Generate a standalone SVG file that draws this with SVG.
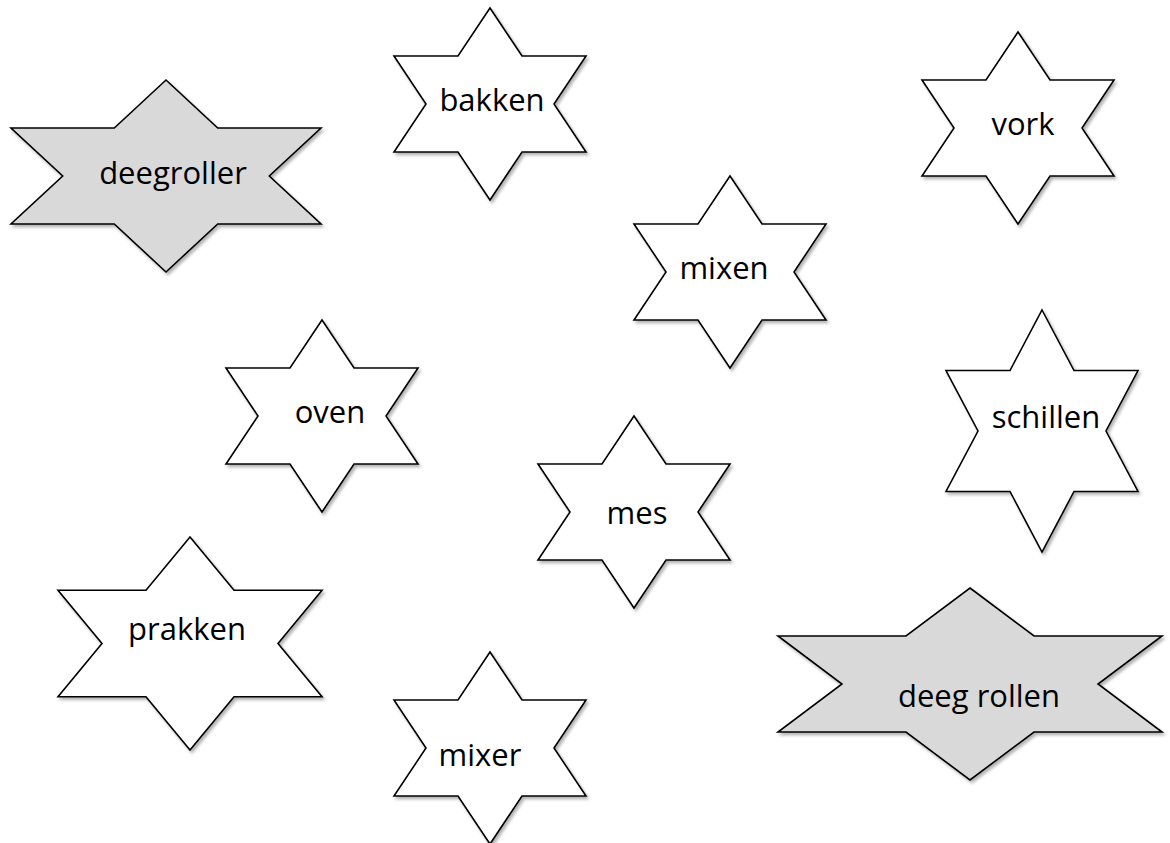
<svg xmlns="http://www.w3.org/2000/svg" width="1170" height="843" viewBox="0 0 1170 843">
  <defs>
    <filter id="sh" x="-10%" y="-10%" width="130%" height="130%">
      <feDropShadow dx="2" dy="2.5" stdDeviation="1.5" flood-color="#000" flood-opacity="0.3"/>
    </filter>
    <style>
      .star { fill: #ffffff; stroke: #000000; stroke-width: 1.6; stroke-linejoin: miter; filter: url(#sh); }
      .grey { fill: #d9d9d9; }
      .lbl { font-family: "Open Sans", "Liberation Sans", sans-serif; font-size: 31px; fill: #000000; text-anchor: middle; }
    </style>
  </defs>
  <rect width="1170" height="843" fill="#ffffff"/>
  <g id="connectors"/>
  <g id="node-bakken">
    <polygon class="star" points="490,8 522,56 586,56 554,104 586,152 522,152 490,200 458,152 394,152 426,104 394,56 458,56"/>
    <text class="lbl" x="492" y="111">bakken</text>
  </g>
  <g id="node-deegroller">
    <polygon class="star grey" points="166,80 217.7,128 321,128 269.3,176 321,224 217.7,224 166,272 114.3,224 11,224 62.7,176 11,128 114.3,128"/>
    <text class="lbl" x="173" y="184">deegroller</text>
  </g>
  <g id="node-vork">
    <polygon class="star" points="1018,32 1050,80 1114,80 1082,128 1114,176 1050,176 1018,224 986,176 922,176 954,128 922,80 986,80"/>
    <text class="lbl" x="1023" y="135">vork</text>
  </g>
  <g id="node-mixen">
    <polygon class="star" points="730,176 762,224 826,224 794,272 826,320 762,320 730,368 698,320 634,320 666,272 634,224 698,224"/>
    <text class="lbl" x="724" y="279">mixen</text>
  </g>
  <g id="node-oven">
    <polygon class="star" points="322,320 354,368 418,368 386,416 418,464 354,464 322,512 290,464 226,464 258,416 226,368 290,368"/>
    <text class="lbl" x="330" y="423">oven</text>
  </g>
  <g id="node-schillen">
    <polygon class="star" points="1042,310 1074,370.5 1138,370.5 1106,431 1138,491.5 1074,491.5 1042,552 1010,491.5 946,491.5 978,431 946,370.5 1010,370.5"/>
    <text class="lbl" x="1046" y="428">schillen</text>
  </g>
  <g id="node-mes">
    <polygon class="star" points="634,416 666,464 730,464 698,512 730,560 666,560 634,608 602,560 538,560 570,512 538,464 602,464"/>
    <text class="lbl" x="637" y="524">mes</text>
  </g>
  <g id="node-prakken">
    <polygon class="star" points="190,537 234,590.25 322,590.25 278,643.5 322,696.75 234,696.75 190,750 146,696.75 58,696.75 102,643.5 58,590.25 146,590.25"/>
    <text class="lbl" x="187" y="640">prakken</text>
  </g>
  <g id="node-deeg-rollen">
    <polygon class="star grey" points="970,588 1034,636 1162,636 1098,684 1162,732 1034,732 970,780 906,732 778,732 842,684 778,636 906,636"/>
    <text class="lbl" x="979" y="707">deeg rollen</text>
  </g>
  <g id="node-mixer">
    <polygon class="star" points="490,652 522,700 586,700 554,748 586,796 522,796 490,844 458,796 394,796 426,748 394,700 458,700"/>
    <text class="lbl" x="480" y="766">mixer</text>
  </g>
</svg>
